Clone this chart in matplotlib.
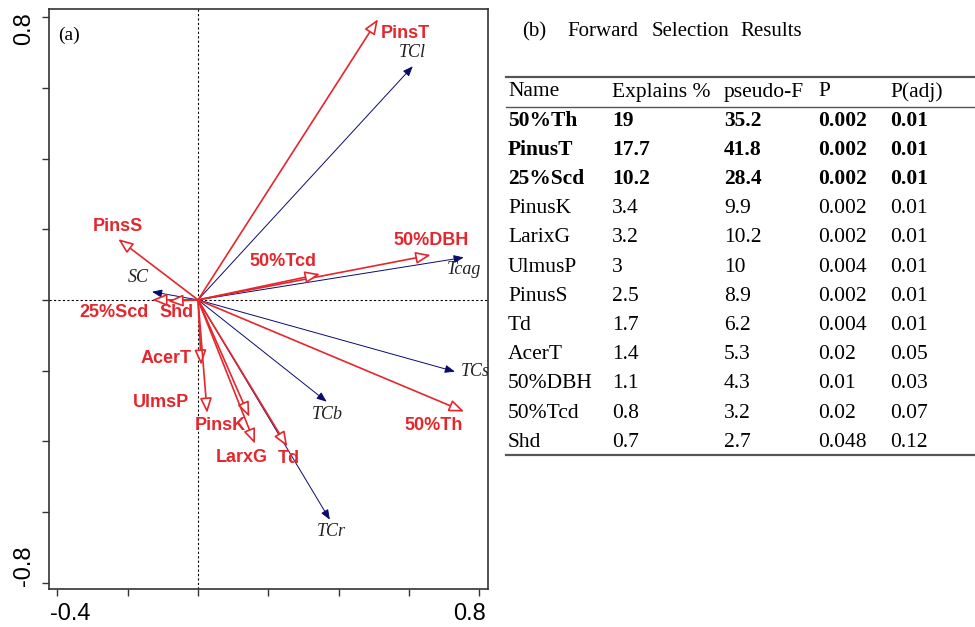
import numpy as np
import matplotlib
matplotlib.use('Agg')
from matplotlib import pyplot as plt
from matplotlib.patches import FancyArrowPatch
from matplotlib.transforms import ScaledTranslation

# 环境变量箭头 (红色)
env_names = ['PinsT', 'PinsS', '50%DBH', '50%Tcd', '25%Scd', 'Shd',
             'AcerT', 'UlmsP', 'PinsK', 'LarxG', 'Td', '50%Th']
env_x = [0.512, -0.227, 0.662, 0.347, -0.131, -0.085,
         0.009, 0.026, 0.146, 0.162, 0.254, 0.757]
env_y = [0.794, 0.172, 0.127, 0.073, 0.0, -0.004,
         -0.184, -0.320, -0.331, -0.407, -0.415, -0.316]
env_lab_x = [0.589, -0.227, 0.662, 0.241, -0.238, -0.06,
             -0.091, -0.105, 0.063, 0.124, 0.257, 0.669]
env_lab_y = [0.755, 0.209, 0.167, 0.110, -0.037, -0.037,
             -0.165, -0.289, -0.356, -0.446, -0.450, -0.356]

# 响应变量箭头 (蓝色)
resp_names = ['TCl', 'SC', 'Tcag', 'TCs', 'TCb', 'TCr']
resp_x = [0.611, -0.131, 0.756, 0.731, 0.366, 0.375]
resp_y = [0.661, 0.023, 0.120, -0.203, -0.288, -0.622]
resp_lab_x = [0.611, -0.171, 0.757, 0.788, 0.369, 0.378]
resp_lab_y = [0.701, 0.062, 0.085, -0.203, -0.323, -0.656]

# 表格
title_words = ['(b)', 'Forward', 'Selection', 'Results']
col_names = ['Name', 'Explains %', 'pseudo-F', 'P', 'P(adj)']
tab_name = ['50%Th', 'PinusT', '25%Scd', 'PinusK', 'LarixG', 'UlmusP',
            'PinusS', 'Td', 'AcerT', '50%DBH', '50%Tcd', 'Shd']
tab_explains = ['19', '17.7', '10.2', '3.4', '3.2', '3', '2.5', '1.7', '1.4', '1.1', '0.8', '0.7']
tab_pseudoF = ['35.2', '41.8', '28.4', '9.9', '10.2', '10', '8.9', '6.2', '5.3', '4.3', '3.2', '2.7']
tab_p = ['0.002', '0.002', '0.002', '0.002', '0.002', '0.004', '0.002', '0.004', '0.02', '0.01', '0.02', '0.048']
tab_padj = ['0.01', '0.01', '0.01', '0.01', '0.01', '0.01', '0.01', '0.01', '0.05', '0.03', '0.07', '0.12']
n_bold = 3

red = '#e5262c'
navy = '#0a0a6e'

fig = plt.figure(figsize=(9.75, 6.27), dpi=100)
ax = fig.add_axes([49/975, 1-589/627, (488-49)/975, (589-9)/627])
ax.set_xlim(-0.424, 0.825)
ax.set_ylim(-0.818, 0.823)

ax.axhline(0, color='k', ls=(0, (2, 2)), lw=0.8, zorder=0)
ax.axvline(0, color='k', ls=(0, (2, 2)), lw=0.8, zorder=0)

for i in range(len(resp_names)):
    a = FancyArrowPatch((0, 0), (resp_x[i], resp_y[i]),
                        arrowstyle='-|>,head_length=6,head_width=2.4',
                        mutation_scale=1, shrinkA=0, shrinkB=0,
                        color=navy, lw=0.7, zorder=2)
    ax.add_patch(a)
    ax.text(resp_lab_x[i], resp_lab_y[i], resp_names[i], family='Liberation Serif',
            style='italic', fontsize=13, color='#222222', ha='center', va='center')

for i in range(len(env_names)):
    a = FancyArrowPatch((0, 0), (env_x[i], env_y[i]),
                        arrowstyle='-|>,head_length=9,head_width=3.6',
                        mutation_scale=1, shrinkA=0, shrinkB=0,
                        fc='white', ec=red, lw=1.2, zorder=3)
    ax.add_patch(a)
    ax.text(env_lab_x[i], env_lab_y[i], env_names[i], family='Liberation Sans',
            weight='bold', fontsize=13, color=red, ha='center', va='center', zorder=4)

ax.text(0.02, 0.955, '(a)', transform=ax.transAxes, family='Liberation Serif',
        fontsize=14, ha='left', va='center')

ax.set_xticks(np.arange(-0.4, 0.81, 0.2))
ax.set_yticks(np.arange(-0.8, 0.81, 0.2))
ax.set_xticklabels(['-0.4', '', '', '', '', '', '0.8'], family='Liberation Sans', fontsize=17)
ax.set_yticklabels(['-0.8', '', '', '', '', '', '', '', '0.8'], family='Liberation Sans',
                   fontsize=17, rotation=90, va='center')
ax.tick_params(direction='out', length=5, width=1, colors='#333333', labelcolor='black', pad=5)
xl = ax.get_xticklabels()
xl[0].set_transform(xl[0].get_transform() + ScaledTranslation(9/72, 0, fig.dpi_scale_trans))
xl[-1].set_transform(xl[-1].get_transform() + ScaledTranslation(-7/72, 0, fig.dpi_scale_trans))
yl = ax.get_yticklabels()
yl[0].set_transform(yl[0].get_transform() + ScaledTranslation(0, 12/72, fig.dpi_scale_trans))
yl[-1].set_transform(yl[-1].get_transform() + ScaledTranslation(0, -8/72, fig.dpi_scale_trans))
for s in ax.spines.values():
    s.set_color('#333333')
    s.set_linewidth(1.2)

# 表格部分, 用像素坐标
tb = fig.add_axes([0, 0, 1, 1])
tb.set_xlim(0, 975)
tb.set_ylim(627, 0)
tb.axis('off')
tb.patch.set_alpha(0)

title_x = [522, 567, 652, 740]
for k, w in enumerate(title_words):
    tb.text(title_x[k], 32, w, family='Liberation Serif', fontsize=15, ha='left', va='center')
tb.plot([506, 975], [77, 77], color='#555555', lw=1.6)
tb.plot([506, 975], [107, 107], color='#555555', lw=1.0)
tb.plot([506, 975], [455, 455], color='#555555', lw=1.6)

col_x = [508, 612, 724, 818, 890]
for j, c in enumerate(col_names):
    tb.text(col_x[j], 92, c, family='Liberation Serif', fontsize=15.5, ha='left', va='center')

cols = [tab_name, tab_explains, tab_pseudoF, tab_p, tab_padj]
for i in range(len(tab_name)):
    y = 121 + i * 29.2
    w = 'bold' if i < n_bold else 'normal'
    for j in range(5):
        tb.text(col_x[j], y, cols[j][i], family='Liberation Serif', fontsize=15.5,
                weight=w, ha='left', va='center')

plt.savefig('out.png', dpi=100)
